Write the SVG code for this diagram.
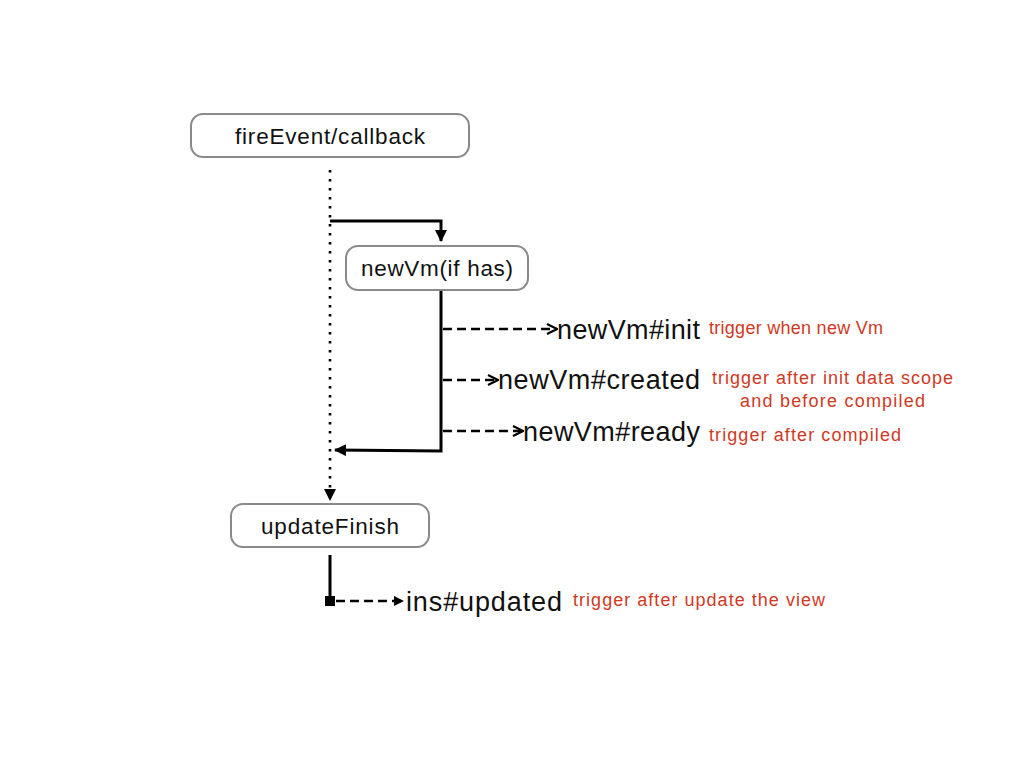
<svg xmlns="http://www.w3.org/2000/svg" width="1024" height="768" viewBox="0 0 1024 768">
<defs>
<style>
.box{fill:#fff;stroke:#8a8a8a;stroke-width:2}
.bt{font-family:"Liberation Sans",Arial,sans-serif;font-size:22.5px;fill:#111;text-anchor:middle}
.ev{font-family:"Liberation Sans",Arial,sans-serif;font-size:27px;fill:#111}
.note{font-family:"Liberation Sans",Arial,sans-serif;font-size:18px;fill:#d0391f}
.solid{fill:none;stroke:#000;stroke-width:3}
.dash{fill:none;stroke:#000;stroke-width:2.5;stroke-dasharray:9 5}
.dot{fill:none;stroke:#000;stroke-width:2.6;stroke-dasharray:2.6 6.4}
</style>
<marker id="tri" viewBox="0 0 10 10" refX="9" refY="5" markerWidth="10" markerHeight="10" markerUnits="userSpaceOnUse" orient="auto">
<path d="M0,0 L10,5 L0,10 Z" fill="#000"/>
</marker>
<marker id="tri2" viewBox="0 0 12 12" refX="11" refY="6" markerWidth="12" markerHeight="12" markerUnits="userSpaceOnUse" orient="auto">
<path d="M0,0 L12,6 L0,12 Z" fill="#000"/>
</marker>
<marker id="open" viewBox="0 0 12 12" refX="11" refY="6" markerWidth="12" markerHeight="12" markerUnits="userSpaceOnUse" orient="auto">
<path d="M1,1 L11,6 L1,11" fill="none" stroke="#000" stroke-width="2.2"/>
</marker>
</defs>
<rect width="1024" height="768" fill="#fff"/>
<g id="connectors">
<line class="dot" x1="330" y1="170" x2="330" y2="500" marker-end="url(#tri2)"/>
<polyline class="solid" points="330,221 441,221 441,241" marker-end="url(#tri2)"/>
<polyline class="solid" points="441,290 441,451 335,450" marker-end="url(#tri2)"/>
<line class="dash" x1="443" y1="329" x2="557" y2="329" marker-end="url(#open)"/>
<line class="dash" x1="443" y1="380" x2="498" y2="380" marker-end="url(#open)"/>
<line class="dash" x1="443" y1="431" x2="523" y2="431" marker-end="url(#open)"/>
<line class="solid" x1="330" y1="555" x2="330" y2="600"/>
<rect x="325" y="596" width="10" height="10" fill="#000"/>
<line class="dash" x1="336" y1="601" x2="403" y2="601" marker-end="url(#tri)"/>
</g>
<g id="fireEvent">
<rect class="box" x="191" y="114" width="278" height="43" rx="12"/>
<text class="bt" x="330" y="144" textLength="190" lengthAdjust="spacing">fireEvent/callback</text>
</g>
<g id="newVm">
<rect class="box" x="346" y="246" width="182" height="44" rx="12"/>
<text class="bt" x="437" y="276" textLength="152" lengthAdjust="spacing">newVm(if has)</text>
</g>
<g id="updateFinish">
<rect class="box" x="231" y="504" width="198" height="43" rx="12"/>
<text class="bt" x="330" y="534" textLength="138" lengthAdjust="spacing">updateFinish</text>
</g>
<g id="init">
<text class="ev" x="557" y="339" textLength="143" lengthAdjust="spacing">newVm#init</text>
<text class="note" x="709" y="334" textLength="174" lengthAdjust="spacing">trigger when new Vm</text>
</g>
<g id="created">
<text class="ev" x="498" y="389" textLength="202" lengthAdjust="spacing">newVm#created</text>
<text class="note" x="712" y="384" textLength="241" lengthAdjust="spacing">trigger after init data scope</text>
<text class="note" x="740" y="407" textLength="185" lengthAdjust="spacing">and before compiled</text>
</g>
<g id="ready">
<text class="ev" x="523" y="441" textLength="177" lengthAdjust="spacing">newVm#ready</text>
<text class="note" x="709" y="441" textLength="192" lengthAdjust="spacing">trigger after compiled</text>
</g>
<g id="updated">
<text class="ev" x="406" y="611" textLength="156" lengthAdjust="spacing">ins#updated</text>
<text class="note" x="573" y="606" textLength="252" lengthAdjust="spacing">trigger after update the view</text>
</g>
</svg>
